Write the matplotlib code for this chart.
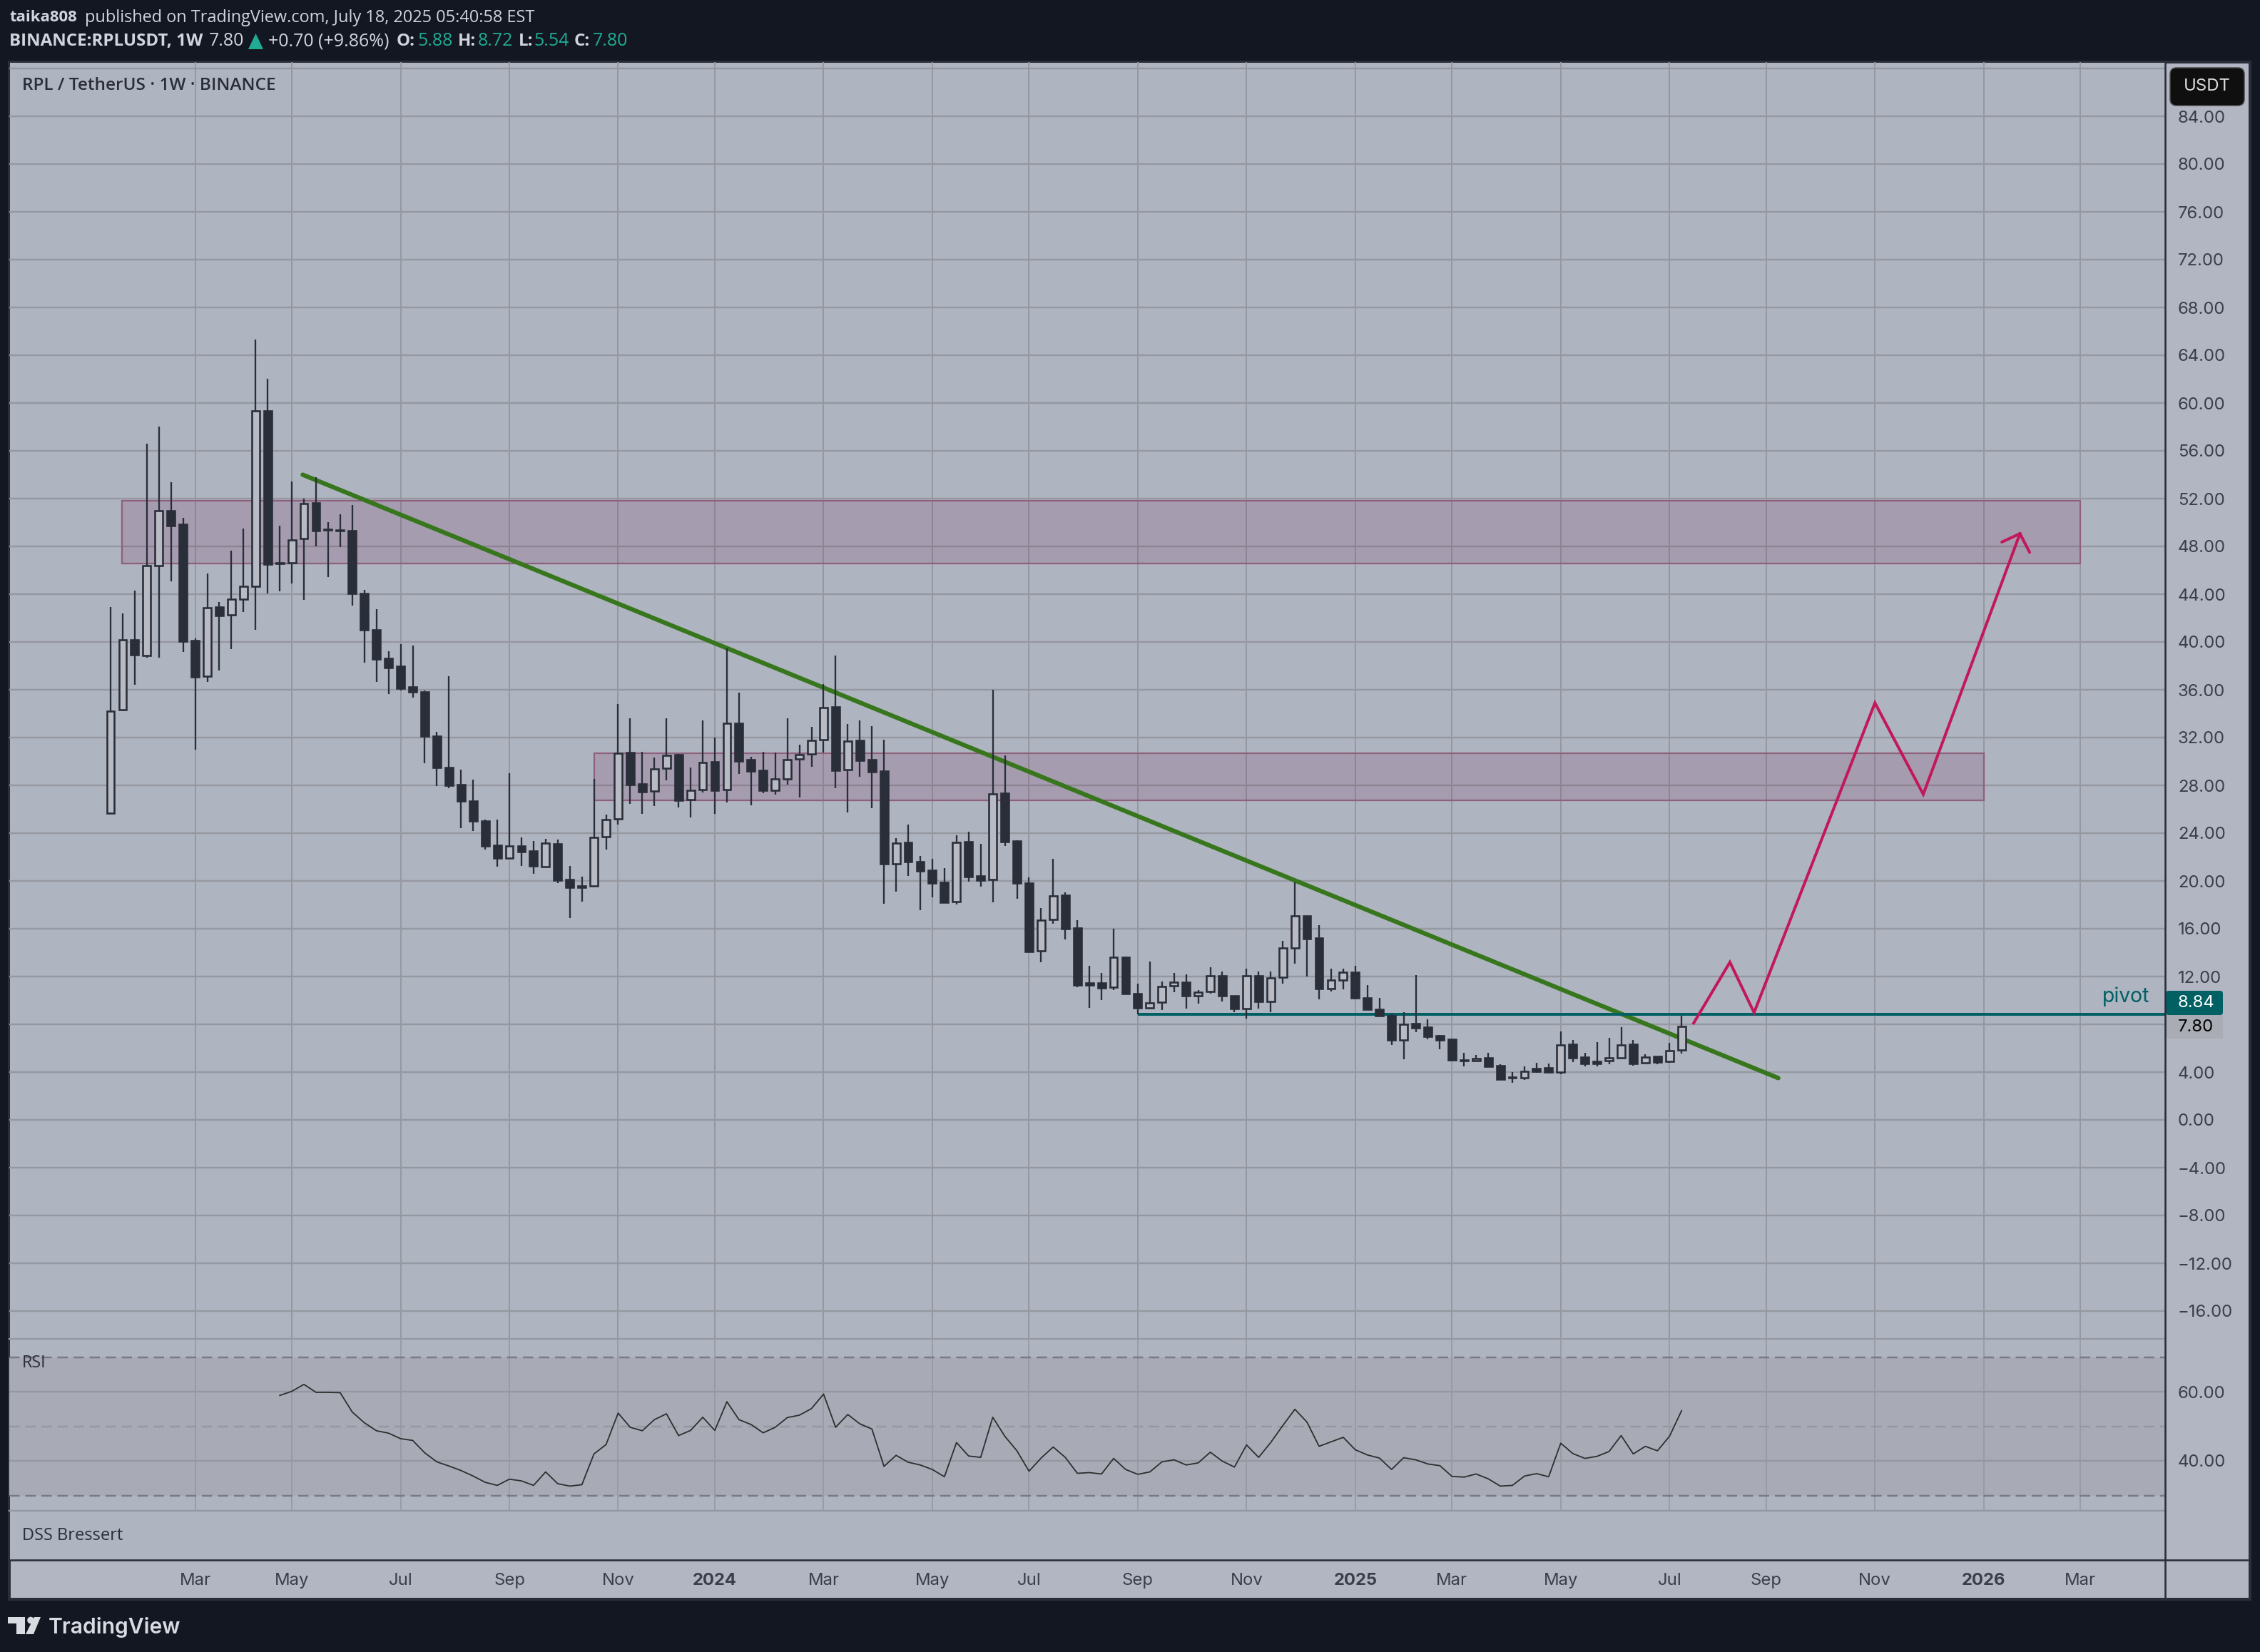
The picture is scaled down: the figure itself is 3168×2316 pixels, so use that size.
import matplotlib
matplotlib.use('Agg')
from matplotlib import pyplot as plt
from matplotlib.patches import FancyBboxPatch, Rectangle, Polygon, Circle

W, H = 3168, 2316
DPI = 200
PX = 72.0 / DPI  # 1 px en puntos

# velas semanales
opens = [25.67,34.3,40.2,38.88,46.36,50.98,49.86,40.14,37.12,42.93,
         42.25,43.56,44.68,59.34,46.63,46.63,48.63,51.64,49.45,49.38,
         49.3,44.05,41.04,38.63,37.95,36.25,35.84,32.11,29.48,28.06,
         26.69,25.01,22.99,21.93,22.93,22.51,21.21,23.1,20.12,19.56,
         19.6,23.68,25.17,30.75,28.1,27.5,29.41,30.57,26.79,27.62,
         29.95,27.62,33.17,30.13,29.25,27.6,28.52,30.21,30.61,31.8,
         34.55,29.29,31.74,30.15,29.19,21.41,23.22,21.59,20.88,19.86,
         18.25,23.26,20.4,20.12,27.32,23.34,19.8,14.15,16.78,18.78,
         16.04,11.48,11.48,11.08,13.63,10.59,9.39,9.83,11.2,11.54,
         10.41,10.73,12.08,10.41,9.33,12.08,9.93,11.92,14.41,17.09,
         15.24,11.0,11.72,12.38,10.23,9.27,8.74,6.66,8.05,7.75,
         7.02,6.74,5.03,4.93,5.17,4.51,3.56,3.5,4.28,4.34,
         4.0,6.3,5.23,4.87,4.93,5.21,6.3,4.75,5.29,4.87,
         5.88]
closes = [34.2,40.16,38.9,46.36,50.96,49.73,40.05,37.1,42.85,42.2,
          43.56,44.68,59.32,46.52,46.55,48.55,51.56,49.29,49.4,49.3,
          44.05,41.0,38.55,37.86,36.14,35.81,32.11,29.48,28.0,26.69,
          25.01,22.93,21.91,22.91,22.45,21.25,23.14,20.06,19.46,19.46,
          23.66,25.15,30.7,28.06,27.46,29.39,30.53,26.75,27.6,29.93,
          27.58,33.21,30.05,29.21,27.58,28.56,30.17,30.57,31.78,34.53,
          29.25,31.72,30.09,29.15,21.45,23.18,21.63,20.86,19.84,18.23,
          23.24,20.38,20.08,27.3,23.3,19.84,14.11,16.74,18.76,16.02,
          11.28,11.28,11.04,13.59,10.57,9.37,9.79,11.16,11.5,10.39,
          10.69,12.06,10.39,9.31,12.06,9.91,11.88,14.39,17.07,15.16,
          11.0,11.7,12.36,10.21,9.23,8.72,6.7,8.01,7.71,7.0,
          6.7,5.03,4.97,5.15,4.49,3.42,3.5,4.06,4.08,3.98,
          6.28,5.21,4.73,4.73,5.19,6.28,4.73,5.27,4.85,5.81,
          7.8]
highs = [42.93,42.4,44.3,56.6,58.03,53.37,50.38,40.27,45.73,43.34,
         47.64,49.48,65.32,62.03,49.73,53.42,52.0,53.78,50.03,50.68,
         51.45,44.35,42.74,39.23,39.84,39.7,35.97,32.47,37.15,29.31,
         28.48,25.13,25.13,29.01,23.64,23.34,23.52,23.46,21.25,20.36,
         28.54,25.55,34.8,33.6,30.8,30.33,33.6,30.65,29.49,33.43,
         32.0,39.46,35.76,30.37,30.81,30.75,33.6,31.4,32.9,36.46,
         38.87,33.13,33.43,32.96,31.82,23.58,24.72,22.09,21.85,21.07,
         23.82,24.12,23.1,36.0,30.5,23.38,20.3,17.71,21.85,19.04,
         16.74,12.88,12.32,15.98,13.69,11.42,13.23,11.56,12.32,12.2,
         10.89,12.8,12.4,10.41,12.64,12.44,12.4,14.97,19.88,17.09,
         16.28,12.64,12.64,12.88,11.26,10.19,8.89,8.99,12.09,8.41,
         7.08,6.78,5.61,5.41,5.61,4.63,4.0,4.47,4.77,4.69,
         7.38,6.68,5.59,6.5,6.86,7.75,6.68,5.47,5.29,6.42,
         8.72]
lows = [25.6,34.2,36.44,38.7,38.7,45.1,39.15,31.0,36.63,37.64,
        39.42,42.52,40.99,44.03,44.22,44.9,43.5,48.0,45.45,47.97,
        43.07,38.25,36.68,35.67,35.97,35.37,29.84,27.92,27.78,24.42,
        24.18,22.63,21.19,21.9,21.25,20.6,21.15,19.82,16.9,18.27,
        19.54,22.63,24.74,26.45,25.63,26.27,28.42,26.17,25.33,27.42,
        25.63,26.59,28.97,26.3,27.34,27.24,28.06,26.99,29.55,30.73,
        27.76,25.73,28.72,26.09,18.11,19.1,20.42,17.57,18.65,18.17,
        18.05,19.96,19.54,18.23,22.95,18.53,14.03,13.19,16.44,15.12,
        11.08,9.37,10.03,10.87,10.51,8.84,9.31,9.19,10.69,9.31,
        9.73,10.57,9.91,9.01,8.48,9.31,9.01,11.4,13.08,12.02,
        10.09,10.75,10.93,10.09,9.19,8.72,6.26,5.07,7.33,6.74,
        5.92,5.01,4.47,4.93,4.49,3.36,3.12,3.36,3.96,3.96,
        3.84,4.85,4.49,4.49,4.67,5.17,4.55,4.75,4.67,4.79,
        5.54]

# RSI, empieza en la vela 14
rsi_start = 14
rsi = [58.9,60.1,62.1,59.8,59.8,59.7,54.1,51.0,48.7,48.0,46.4,45.9,42.3,39.7,
       38.5,37.2,35.6,33.8,32.9,34.7,34.2,32.9,36.8,33.4,32.7,33.1,42.0,44.7,
       53.8,49.7,48.7,51.9,53.6,47.3,48.8,52.6,48.8,57.1,51.9,50.5,48.1,49.7,
       52.5,53.2,55.1,59.3,49.7,53.4,50.7,49.2,38.4,41.6,39.6,38.8,37.5,35.4,
       45.3,41.4,41.0,52.6,47.1,42.9,37.0,40.8,44.0,41.0,36.4,36.6,36.2,40.7,
       37.5,36.1,36.8,39.7,40.3,38.8,39.4,42.5,39.9,38.2,44.6,41.0,45.3,50.2,
       54.9,51.2,44.2,45.5,46.8,43.2,41.7,40.8,37.5,40.9,40.3,39.1,38.6,35.5,
       35.3,36.2,34.8,32.7,32.9,35.6,36.3,35.4,45.1,42.1,40.7,41.3,42.7,47.3,
       42.0,44.2,42.9,47.1,54.5]

# eje de tiempo
month_pos = [7,15,24,33,42,50,59,68,76,85,94,103,111,120,129,137,146,155,163]
month_labels = ['Mar','May','Jul','Sep','Nov','2024','Mar','May','Jul','Sep','Nov',
                '2025','Mar','May','Jul','Sep','Nov','2026','Mar']
year_labels = ['2024','2025','2026']

# dibujos del autor
trend_x = [15.9, 138.0]
trend_y = [54.0, 3.5]
zone_high = [0.97, 163.0, 46.58, 51.84]  # x0, x1, y0, y1
zone_mid = [40.0, 155.0, 26.75, 30.7]
pivot_x0 = 85
pivot = 8.84
path_x = [131.0, 134.0, 136.0, 146.0, 150.0, 158.0]
path_y = [8.1, 13.2, 8.98, 34.9, 27.25, 49.07]
head_x = [156.5, 158.0, 158.8]
head_y = [48.36, 49.07, 47.5]

BG = '#131722'
PANE = '#aeb4c0'
SCALE = '#b2b6c2'
GRID = '#9598a1'
DARK = '#2a2e39'
TEAL = '#006064'
GREEN = '#22ab94'
FONT = 'Inter'
HEAD = 'Open Sans'


def px_axes(fig, x0, y0, x1, y1, **kw):
    return fig.add_axes([x0 / W, 1 - y1 / H, (x1 - x0) / W, (y1 - y0) / H], **kw)


def week_lim():
    return (13 - 155) / 16.94, (3035 - 155) / 16.94


fig = plt.figure(figsize=(W / DPI, H / DPI), dpi=DPI, facecolor=BG)

# fondo en pixeles
back = fig.add_axes([0, 0, 1, 1], zorder=0)
back.set_xlim(0, W)
back.set_ylim(H, 0)
back.axis('off')
back.add_patch(Rectangle((13, 87), 3141, 2155, fc=SCALE, ec='#2a2e39', lw=4 * PX))
back.add_patch(Rectangle((14, 88), 3021, 2099, fc=PANE, ec='none'))

# panel de precio
ax = px_axes(fig, 13, 87, 3035, 1877, zorder=1)
ax.patch.set_alpha(0)
ax.set_xlim(*week_lim())
ax.set_ylim((1570 - 1877) / 16.75, (1570 - 87) / 16.75)
for s in ax.spines.values():
    s.set_visible(False)
ax.spines['bottom'].set_visible(True)
ax.spines['bottom'].set_color(GRID)
ax.spines['bottom'].set_linewidth(2.2 * PX)

price_ticks = list(range(-16, 89, 4))
price_labels = [f'{v:.2f}'.replace('-', '\u2212') if v not in (8, 88) else '' for v in price_ticks]
ax.yaxis.tick_right()
ax.set_yticks(price_ticks)
ax.set_yticklabels(price_labels, fontsize=8.6, color='#3a3e4a', family=FONT)
ax.set_xticks(month_pos)
ax.set_xticklabels([])
ax.tick_params(length=0, pad=18 * PX)
ax.set_axisbelow(True)
ax.grid(axis='y', color=GRID, lw=2.4 * PX)
ax.grid(axis='x', color=GRID, lw=2.0 * PX)

# zonas, pivot y tendencia
for z in (zone_high, zone_mid):
    ax.add_patch(Rectangle((z[0], z[2]), z[1] - z[0], z[3] - z[2], fc='#6f104a', alpha=0.14, ec='none', zorder=2))
    ax.add_patch(Rectangle((z[0], z[2]), z[1] - z[0], z[3] - z[2], fc='none', ec='#8f607c', lw=2.2 * PX, zorder=2))
ax.plot(trend_x, trend_y, color='#38761d', lw=6.2 * PX, solid_capstyle='round', zorder=3)
ax.plot([pivot_x0, week_lim()[1]], [pivot, pivot], color=TEAL, lw=4 * PX, solid_capstyle='butt', zorder=3)
ax.plot(path_x, path_y, color='#c2185b', lw=4 * PX, solid_joinstyle='miter', zorder=3)
ax.plot(head_x, head_y, color='#c2185b', lw=4 * PX, solid_capstyle='round', zorder=3)

# velas
weeks = list(range(len(opens)))
ax.vlines(weeks, lows, highs, color=DARK, lw=2.3 * PX, zorder=4)
for i in weeks:
    up = closes[i] >= opens[i]
    ax.bar(i, abs(closes[i] - opens[i]), bottom=min(opens[i], closes[i]), width=0.64,
           color='#b8bbc4' if up else DARK, edgecolor=DARK, linewidth=2.6 * PX, zorder=5)

# panel RSI
ax_rsi = px_axes(fig, 13, 1877, 3035, 2118, zorder=1)
ax_rsi.patch.set_alpha(0)
ax_rsi.set_xlim(*week_lim())
ax_rsi.set_ylim(40 - (2118 - 2048) / 4.85, 60 + (1951 - 1877) / 4.85)
for s in ax_rsi.spines.values():
    s.set_visible(False)
ax_rsi.spines['bottom'].set_visible(True)
ax_rsi.spines['bottom'].set_color(GRID)
ax_rsi.spines['bottom'].set_linewidth(2.4 * PX)
ax_rsi.axhspan(30, 70, color='#a8abb6', lw=0, zorder=0)
ax_rsi.yaxis.tick_right()
ax_rsi.set_yticks([40, 60])
ax_rsi.set_yticklabels(['40.00', '60.00'], fontsize=8.6, color='#3a3e4a', family=FONT)
ax_rsi.set_xticks(month_pos)
ax_rsi.set_xticklabels([])
ax_rsi.tick_params(length=0, pad=18 * PX)
ax_rsi.set_axisbelow(True)
ax_rsi.grid(axis='y', color=GRID, lw=2.4 * PX)
ax_rsi.grid(axis='x', color=GRID, lw=1.6 * PX)
ax_rsi.axhline(70, color='#787b86', lw=2.5 * PX, dashes=(5.8, 3.2), zorder=1)
ax_rsi.axhline(50, color='#9598a1', lw=2.5 * PX, dashes=(5.8, 3.2), zorder=1)
ax_rsi.axhline(30, color='#787b86', lw=2.5 * PX, dashes=(5.8, 3.2), zorder=1)
ax_rsi.plot(range(rsi_start, rsi_start + len(rsi)), rsi, color='#2e2e2e', lw=1.8 * PX, zorder=3)

# eje de fechas
ax_t = px_axes(fig, 13, 2118, 3035, 2187, zorder=1)
ax_t.patch.set_alpha(0)
ax_t.set_xlim(*week_lim())
ax_t.set_yticks([])
for s in ax_t.spines.values():
    s.set_visible(False)
ax_t.set_xticks(month_pos)
ax_t.set_xticklabels(month_labels, fontsize=8.6, color='#3a3e4a', family=FONT)
for lab in ax_t.get_xticklabels():
    if lab.get_text() in year_labels:
        lab.set_fontweight('bold')
ax_t.tick_params(length=0, pad=18 * PX)

# textos y detalles en pixeles
top = fig.add_axes([0, 0, 1, 1], zorder=10)
top.set_xlim(0, W)
top.set_ylim(H, 0)
top.axis('off')
top.patch.set_alpha(0)
top.plot([3035, 3035], [87, 2242], color=DARK, lw=2.6 * PX)
top.plot([13, 3154], [2187, 2187], color=DARK, lw=2.6 * PX)


def label(x, y, s, color='#d1d4dc', weight='normal', size=9.0, family=HEAD, ha='left'):
    top.text(x, y, s, color=color, fontweight=weight, fontsize=size, family=family, ha=ha, va='center')


label(13, 25, 'taika808', weight='bold', size=8.0)
label(119, 25, 'published on TradingView.com, July 18, 2025 05:40:58 EST', size=8.45)
label(13, 58, 'BINANCE:RPLUSDT, 1W', weight='bold', size=8.7)
label(293, 58, '7.80')
top.add_patch(Polygon([[348, 69], [369, 69], [358.5, 47]], fc=GREEN, ec='none'))
label(376, 58, '+0.70 (+9.86%)')
label(556, 58, 'O:', weight='bold', size=8.7)
label(585, 58, '5.88', color=GREEN)
label(642, 58, 'H:', weight='bold', size=8.7)
label(670, 58, '8.72', color=GREEN)
label(727, 58, 'L:', weight='bold', size=8.7)
label(748, 58, '5.54', color=GREEN)
label(805, 58, 'C:', weight='bold', size=8.7)
label(831, 58, '7.80', color=GREEN)

label(31, 120, 'RPL / TetherUS \u00b7 1W \u00b7 BINANCE', color=DARK, weight='semibold', size=8.8)
label(31, 1911, 'RSI', color=DARK, size=8.4)
label(31, 2153, 'DSS Bressert', color=DARK, size=8.5)
label(2947, 1397, 'pivot', color=TEAL, size=10.2, family=FONT)

# cajas de la escala
top.add_patch(FancyBboxPatch((3046, 99), 96, 45, boxstyle='round,pad=4,rounding_size=9',
                             fc='#0f0f0f', ec='#4a4a4a', lw=1.5 * PX))
label(3094, 121, 'USDT', color='#dbdbdb', size=8.6, family=FONT, ha='center')
top.add_patch(Rectangle((3036, 1423), 80, 33, fc='#a9acb4', ec='none'))
label(3053, 1440, '7.80', color='#000000', size=8.6, family=FONT)
top.add_patch(FancyBboxPatch((3036, 1389), 80, 34, boxstyle='round,pad=0,rounding_size=4', fc=TEAL, ec='none'))
label(3053, 1406, '8.84', color='#ffffff', size=8.6, family=FONT)

# logo
logo = '#d9dbe3'
top.add_patch(Polygon([[11, 2267], [35, 2267], [35, 2291], [23, 2291], [23, 2276], [11, 2276]], fc=logo, ec='none'))
top.add_patch(Circle((43, 2271.5), 4.8, fc=logo, ec='none'))
top.add_patch(Polygon([[48, 2267], [57, 2267], [47, 2291], [36, 2291]], fc=logo, ec='none'))
label(68, 2281, 'TradingView', color=logo, size=10.8, weight='semibold', family='Inter')

fig.savefig('out.png', dpi=DPI, facecolor=BG)
